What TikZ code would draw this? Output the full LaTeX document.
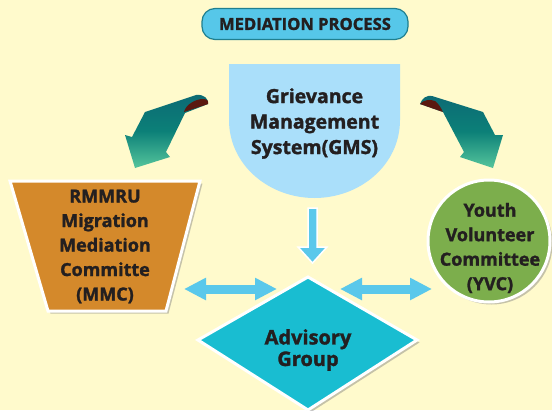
\documentclass[tikz,border=0pt]{standalone}
\usepackage{fontspec}
\setmainfont{Open Sans}[BoldFeatures={FakeBold=1.6}]
\usetikzlibrary{shadows,calc,arrows.meta}
\definecolor{bg}{HTML}{FFFACC}
\definecolor{titlefill}{HTML}{56C7E9}
\definecolor{titleline}{HTML}{1F7F8F}
\definecolor{gmsblue}{HTML}{AADFFA}
\definecolor{mmcorange}{HTML}{D4892B}
\definecolor{yvcgreen}{HTML}{7CAE4C}
\definecolor{advcyan}{HTML}{19BDD1}
\definecolor{arrowblue}{HTML}{5AC8EB}
\definecolor{txt}{HTML}{231F20}
\definecolor{tealdark}{HTML}{0C6A74}
\definecolor{tealmid}{HTML}{0C8078}
\definecolor{teallight}{HTML}{55C59C}
\definecolor{curlbrown}{HTML}{5A1810}
\tikzset{
  lbl/.style={text=txt, font=\bfseries\fontsize{18}{24.5}\selectfont, align=center, inner sep=0pt},
  dblarrow/.style={arrowblue, line width=9pt,
    {Triangle[width=21pt,length=22pt]}-{Triangle[width=21pt,length=22pt]}},
  curlarrow/.style={top color=tealdark, bottom color=teallight, middle color=tealmid},
  boxshadow/.style={drop shadow={opacity=0.45, shadow xshift=2.5pt, shadow yshift=-2.5pt}}
}
\begin{document}
\begin{tikzpicture}[x=1pt,y=-1pt]
\useasboundingbox (0,0) rectangle (552,410);
\fill[bg] (0,0) rectangle (552,410);

% title
\node[draw=titleline, line width=1.2pt, fill=titlefill, rounded corners=13pt,
  minimum width=206pt, minimum height=31pt, text=txt,
  font=\bfseries\fontsize{16.6}{18}\selectfont] (title) at (305,24) {MEDIATION PROCESS};

% GMS shape
\fill[gmsblue] (229,64) -- (400,64) -- (400,120)
  .. controls (400,165) and (360,198) .. (314.5,198)
  .. controls (269,198) and (229,165) .. (229,120) -- cycle;
\node[lbl, font=\bfseries\fontsize{19.5}{25.5}\selectfont] (gms) at (314.5,123.5) {Grievance\\Management\\System(GMS)};

% MMC trapezoid
\filldraw[white, line width=3pt, fill=mmcorange, boxshadow] (10,181) -- (200,181) -- (166,311) -- (48,311) -- cycle;
\node[lbl] (mmc) at (105,246.5) {RMMRU\\Migration\\Mediation\\Committe\\(MMC)};

% YVC circle
\node[circle, draw=white, line width=3pt, fill=yvcgreen, minimum size=122pt, boxshadow] (yvcc) at (489,241) {};
\node[lbl] (yvc) at (490,248) {Youth\\Volunteer\\Committee\\(YVC)};

% Advisory diamond
\filldraw[white, line width=3pt, fill=advcyan, boxshadow] (308,277) -- (417,340) -- (308,410) -- (198,340) -- cycle;
\node[lbl, font=\bfseries\fontsize{20}{21.5}\selectfont] (adv) at (308,350) {Advisory\\Group};

% down arrow GMS -> Advisory
\coordinate (dnA) at (312.5,208);
\coordinate (dnB) at (312.5,263);
\filldraw[white, line width=1.5pt, fill=arrowblue]
  ($(dnA)+(-4.5,0)$) -- ($(dnA)+(4.5,0)$) -- ($(dnB)+(4.5,-16)$) -- ($(dnB)+(14.5,-16)$)
  -- (dnB) -- ($(dnB)+(-14.5,-16)$) -- ($(dnB)+(-4.5,-16)$) -- cycle;

% double arrows
\coordinate (lA) at (184,289);
\coordinate (lB) at (277,289);
\coordinate (rA) at (340,289);
\coordinate (rB) at (432,289);
\draw[dblarrow] (lA) -- (lB);
\draw[dblarrow] (rA) -- (rB);

% left curled arrow
\shade[curlarrow] (145,112) -- (196,95) .. controls (204,94) and (209,99) .. (208,104)
  -- (185,113) -- (166,152) -- (170,157) -- (135,168) -- (125,135) -- (132,137) -- cycle;
\fill[curlbrown] (184,112) .. controls (186,104) and (196,99) .. (203,99)
  .. controls (207,99) and (209,101) .. (208,104) -- cycle;

% right curled arrow
\shade[curlarrow] (420,104) .. controls (422,98) and (427,95) .. (432,96) -- (483,112)
  -- (495,135) -- (503,135) -- (493,168) -- (460,157) -- (464,152) -- (443,112) -- cycle;
\fill[curlbrown] (420,104) .. controls (423,100) and (430,99) .. (435,101)
  .. controls (439,104) and (441,108) .. (443,112) -- cycle;
\end{tikzpicture}
\end{document}
